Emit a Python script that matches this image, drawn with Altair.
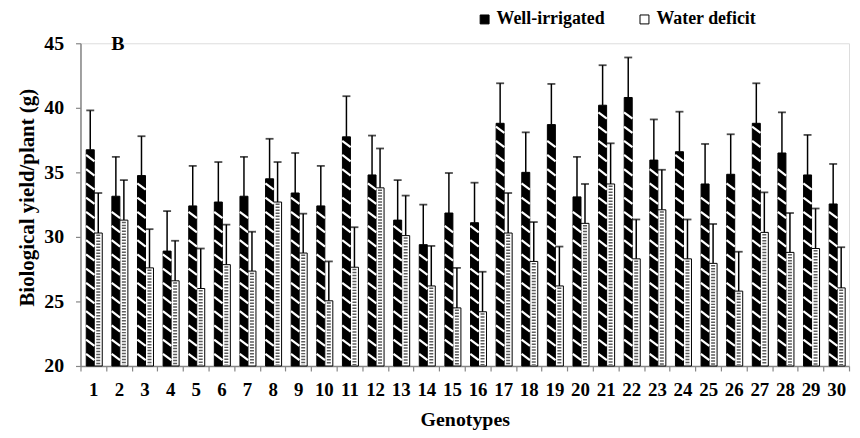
import altair as alt
import pandas as pd

WI = "Well-irrigated"
WD = "Water deficit"

genotypes = list(range(1, 31))

wi_values = [36.75, 33.15, 34.75, 28.9, 32.4, 32.7, 33.15, 34.5, 33.4, 32.4,
             37.75, 34.8, 31.3, 29.4, 31.85, 31.1, 38.8, 35.0, 38.7, 33.1,
             40.2, 40.8, 35.95, 36.6, 34.1, 34.85, 38.8, 36.5, 34.8, 32.55]
wi_errors = [3.05, 3.05, 3.05, 3.1, 3.1, 3.1, 3.05, 3.1, 3.1, 3.1,
             3.15, 3.05, 3.1, 3.1, 3.1, 3.1, 3.1, 3.1, 3.15, 3.1,
             3.1, 3.1, 3.15, 3.1, 3.1, 3.1, 3.1, 3.15, 3.1, 3.1]

wd_values = [30.3, 31.3, 27.6, 26.6, 26.0, 27.85, 27.35, 32.7, 28.75, 25.05,
             27.65, 33.8, 30.1, 26.2, 24.5, 24.2, 30.3, 28.1, 26.2, 31.05,
             34.1, 28.3, 32.1, 28.3, 27.95, 25.8, 30.35, 28.8, 29.1, 26.05]
wd_errors = [3.1, 3.1, 3.0, 3.1, 3.1, 3.1, 3.05, 3.1, 3.05, 3.05,
             3.1, 3.05, 3.1, 3.1, 3.1, 3.1, 3.1, 3.05, 3.05, 3.05,
             3.15, 3.05, 3.1, 3.05, 3.05, 3.05, 3.1, 3.05, 3.1, 3.15]

y_ticks = [20, 25, 30, 35, 40, 45]

rows = []
for g, v, e in zip(genotypes, wi_values, wi_errors):
    rows.append({"genotype": g, "treatment": WI, "value": v, "err": e})
for g, v, e in zip(genotypes, wd_values, wd_errors):
    rows.append({"genotype": g, "treatment": WD, "value": v, "err": e})
df = pd.DataFrame(rows)

FONT = "Liberation Serif"
GREY = "#868686"

x_enc = alt.X(
    "genotype:O",
    scale=alt.Scale(paddingInner=0, paddingOuter=0),
    axis=alt.Axis(
        title="Genotypes", labelAngle=0, labelFont=FONT, labelFontWeight="bold",
        labelFontSize=19, labelColor="black", labelPadding=10, tickSize=5,
        tickColor=GREY, domainColor=GREY, domainWidth=1.5, tickWidth=1.2,
        tickBand="extent", titleFont=FONT, titleFontSize=20, titleFontWeight="bold",
        titleColor="black", titlePadding=10,
    ),
)
xo_enc = alt.XOffset(
    "treatment:N",
    scale=alt.Scale(domain=[WI, WD], paddingInner=0, paddingOuter=0.6, align=0.6),
)
y_scale = alt.Scale(domain=[20, 45], nice=False, zero=False)

base = alt.Chart(df).transform_calculate(
    top="datum.value + datum.err",
    hi="datum.value - 0.12",
)

bars = base.mark_bar(stroke="black", strokeWidth=1).encode(
    x=x_enc,
    xOffset=xo_enc,
    y=alt.Y(
        "value:Q", scale=y_scale,
        axis=alt.Axis(
            values=y_ticks, title="Biological yield/plant (g)", labelFont=FONT,
            labelFontWeight="bold", labelFontSize=20, labelColor="black",
            labelPadding=12, tickSize=5, tickColor=GREY, domainColor=GREY,
            domainWidth=1.5, tickWidth=1.2, grid=False, titleFont=FONT,
            titleFontSize=21, titleFontWeight="bold", titleColor="black",
            titleX=-47, titleY=155, titleBaseline="alphabetic",
        ),
    ),
    y2=alt.datum(20),
    color=alt.Color(
        "treatment:N",
        scale=alt.Scale(domain=[WI, WD], range=["black", "white"]),
        legend=alt.Legend(
            title=None, orient="none", legendX=398, legendY=-33,
            direction="horizontal", labelFont=FONT, labelFontWeight="bold",
            labelFontSize=18, labelColor="black", symbolType="square",
            symbolSize=81, symbolStrokeColor="black", symbolStrokeWidth=1,
            columnPadding=31, labelOffset=3, padding=0,
        ),
    ),
)

stripes = base.transform_filter(alt.datum.treatment == WI).transform_calculate(
    s="sequence(20.7, datum.value - 0.45, 1.1)"
).transform_flatten(["s"]).mark_point(
    shape="M-1,-0.75L1,0.75", size=72, filled=False, color="white",
    strokeWidth=2.2, opacity=1, strokeCap="butt",
).encode(x=x_enc, xOffset=xo_enc, y=alt.Y("s:Q", scale=y_scale))

dots = base.transform_filter(alt.datum.treatment == WD).mark_rule(
    color="#333333", strokeWidth=4, strokeDash=[1.5, 1.5], opacity=0.8
).encode(x=x_enc, xOffset=xo_enc, y=alt.Y("hi:Q", scale=y_scale), y2=alt.datum(20.08))

err_rules = base.mark_rule(color="black", strokeWidth=1.5).encode(
    x=x_enc, xOffset=xo_enc, y=alt.Y("value:Q", scale=y_scale), y2="top:Q"
)
err_caps = base.mark_tick(color="black", thickness=1.8, size=8).encode(
    x=x_enc, xOffset=xo_enc, y=alt.Y("top:Q", scale=y_scale)
)

label = alt.Chart(pd.DataFrame({"panel": ["B"]})).mark_text(
    font=FONT, fontWeight="bold", fontSize=20, align="left",
    baseline="alphabetic", color="black",
).encode(text="panel:N", x=alt.value(31), y=alt.value(7))

chart = alt.layer(bars, stripes, dots, err_rules, err_caps, label).properties(
    width=774, height=325,
    autosize=alt.AutoSizeParams(type="none"),
    padding={"left": 73, "top": 34, "right": 3, "bottom": 70},
).configure_view(stroke=None).configure(background="white")

chart.save("out.html", embed_options={"renderer": "svg", "actions": False})
